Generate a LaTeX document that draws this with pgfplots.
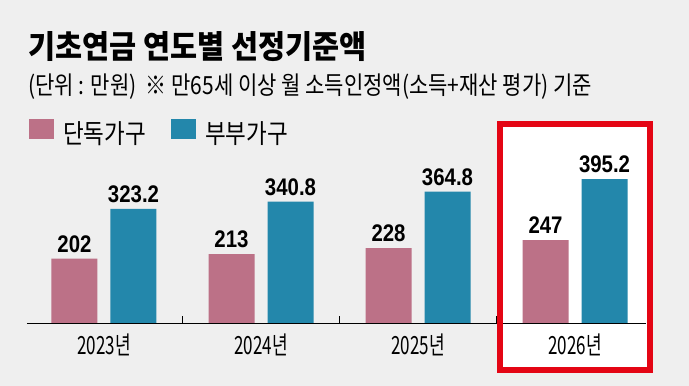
\documentclass[border=0pt]{standalone}
\usepackage{pgfplots}
\pgfplotsset{compat=1.18}
\usepackage{fontspec}
\setmainfont{Noto Sans CJK KR}
\newfontfamily\krtitle[FakeStretch=0.92]{Noto Sans CJK KR}
\newfontfamily\krsub[FakeStretch=0.84]{Noto Sans CJK KR}
\newfontfamily\krleg[FakeStretch=0.85]{Noto Sans CJK KR}
\newfontfamily\krtick[FakeStretch=0.68]{Noto Sans CJK KR}
\newfontfamily\numfont[FakeStretch=0.85]{Liberation Sans}
\definecolor{pinkbar}{RGB}{188,113,135}
\definecolor{bluebar}{RGB}{35,135,171}
\definecolor{bg}{RGB}{239,239,239}
\definecolor{boxred}{RGB}{228,5,20}
\begin{document}
\begin{tikzpicture}
\fill[bg] (0pt,0pt) rectangle (689pt,386pt);
\useasboundingbox (0pt,0pt) rectangle (689pt,386pt);
\fill[white] (500pt,15.5pt) rectangle (649.5pt,262pt);
\node[anchor=base west, inner sep=0pt] at (28pt,327pt) {\krtitle\fontsize{32}{36}\selectfont\bfseries 기초연금 연도별 선정기준액};
\node[anchor=base west, inner sep=0pt] at (28pt,291pt) {\krsub\fontsize{25}{28}\selectfont (단위 : 만원) \ ※ 만65세 이상 월 소득인정액(소득+재산 평가) 기준};
\begin{axis}[
  at={(27pt,63pt)}, anchor=south west, scale only axis,
  width=619pt, height=145.85pt,
  xmin=-0.4904, xmax=3.452, ymin=46, ymax=400,
  ybar, bar width=46pt,
  axis y line=none, axis x line=bottom,
  x axis line style={-, black, line width=0.9pt},
  xtick={0,1,2,3}, xticklabels={2023년,2024년,2025년,2026년},
  major tick length=0pt,
  extra x ticks={0.5,1.5,2.5}, extra x tick labels={},
  extra x tick style={major tick length=7pt, tick align=inside, tick style={black, line width=0.6pt}},
  xticklabel style={font=\krtick\fontsize{25}{27}\selectfont, anchor=center, yshift=-22pt},
  nodes near coords, point meta=explicit symbolic,
  every node near coord/.append style={font=\numfont\bfseries\fontsize{24}{26}\selectfont, anchor=south, inner sep=0pt, yshift=6pt, text=black},
  legend columns=2,
  legend style={at={(0.0032,1.3096)}, anchor=west, draw=none, fill=none, inner sep=0pt,
    font=\krleg\fontsize{26.5}{29}\selectfont, nodes={inner sep=0pt},
    /tikz/every odd column/.append style={column sep=9pt},
    /tikz/every even column/.append style={column sep=25pt}},
  legend image code/.code={\fill[#1] (0pt,-5pt) rectangle (25pt,15pt);},
]
\addplot[fill=pinkbar, draw=none, bar shift=-29.5pt] coordinates {(0,202)[202] (1,213)[213] (2,228)[228] (3,247)[247]};
\addplot[fill=bluebar, draw=none, bar shift=29.5pt] coordinates {(0,323.2)[323.2] (1,340.8)[340.8] (2,364.8)[364.8] (3,395.2)[395.2]};
\legend{단독가구, 부부가구}
\end{axis}
\draw[boxred, line width=6pt] (500pt,15.5pt) rectangle (649.5pt,262pt);
\end{tikzpicture}
\end{document}
